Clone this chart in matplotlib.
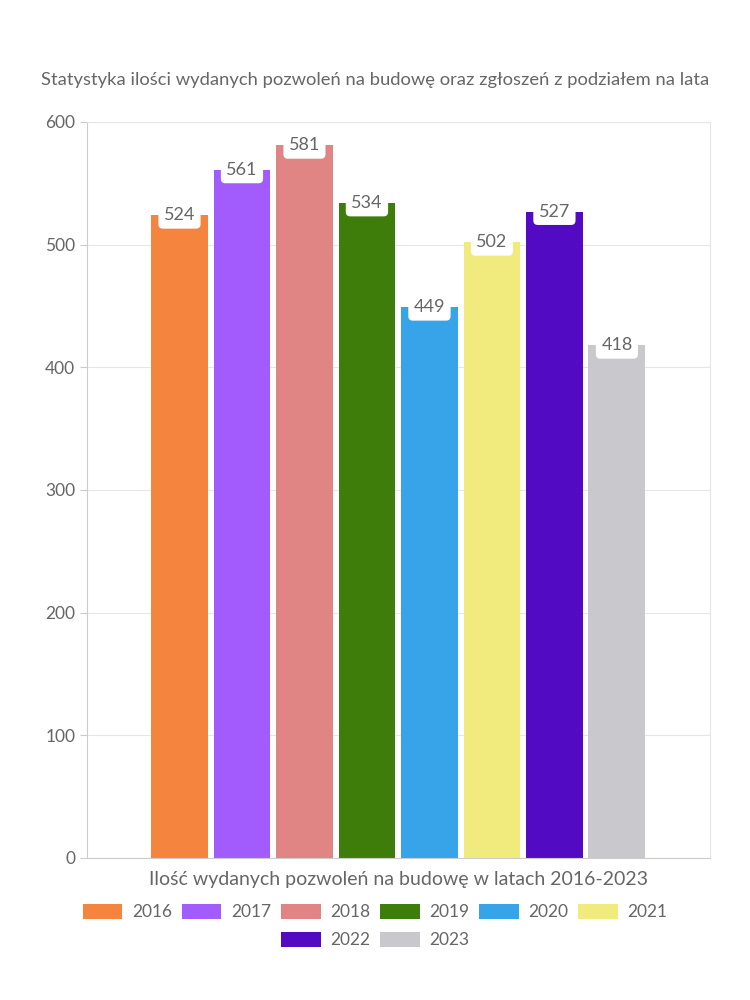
import matplotlib.pyplot as plt
from matplotlib.patches import Patch

plt.rcParams['font.family'] = ['Lato', 'DejaVu Sans']

years = ['2016', '2017', '2018', '2019', '2020', '2021', '2022', '2023']
permits = [524, 561, 581, 534, 449, 502, 527, 418]
colors = ['#F5843F', '#A25BFD', '#E08484', '#3F7D0B',
          '#37A3E8', '#F0EB7C', '#520BC2', '#C9C9CD']

text_col = '#666666'
grid_col = '#E6E6E6'

fig = plt.figure(figsize=(7.5, 10), dpi=100)
ax = fig.add_axes([0.116, 0.142, 0.8307, 0.736])

pos = list(range(len(years)))
ax.bar(pos, permits, width=0.91, color=colors, zorder=2)

for x, v in zip(pos, permits):
    ax.text(x, v, str(v), ha='center', va='center', fontsize=13, color=text_col,
            zorder=3,
            bbox=dict(boxstyle='round,pad=0.3,rounding_size=0.25', fc='white', ec='none'))

ax.set_xlim(-1.48, 8.49)
ax.set_ylim(0, 600)
ax.set_yticks(range(0, 601, 100))
ax.set_xticks([])
ax.grid(axis='y', color=grid_col, linewidth=0.8, zorder=0)
ax.tick_params(axis='y', colors='#CCCCCC', labelcolor=text_col, labelsize=12.5, length=5)

for side in ['top', 'right']:
    ax.spines[side].set_color(grid_col)
for side in ['left', 'bottom']:
    ax.spines[side].set_color('#CCCCCC')

ax.set_xlabel('Ilość wydanych pozwoleń na budowę w latach 2016-2023',
              fontsize=14, color=text_col, labelpad=9)

fig.text(0.5, 0.92, 'Statystyka ilości wydanych pozwoleń na budowę oraz zgłoszeń z podziałem na lata',
         ha='center', va='center', fontsize=13.2, color=text_col)

handles = [Patch(facecolor=c, edgecolor='none', label=y) for c, y in zip(colors, years)]
leg_kw = dict(frameon=False, fontsize=12.5, labelcolor=text_col, handlelength=2.3,
              handleheight=1.0, handletextpad=0.55, columnspacing=0.55, borderpad=0)
fig.legend(handles=handles[:6], ncol=6, loc='center', bbox_to_anchor=(0.5, 0.088), **leg_kw)
fig.legend(handles=handles[6:], ncol=2, loc='center', bbox_to_anchor=(0.5, 0.06), **leg_kw)

fig.savefig('out.png', dpi=100, facecolor='white')
